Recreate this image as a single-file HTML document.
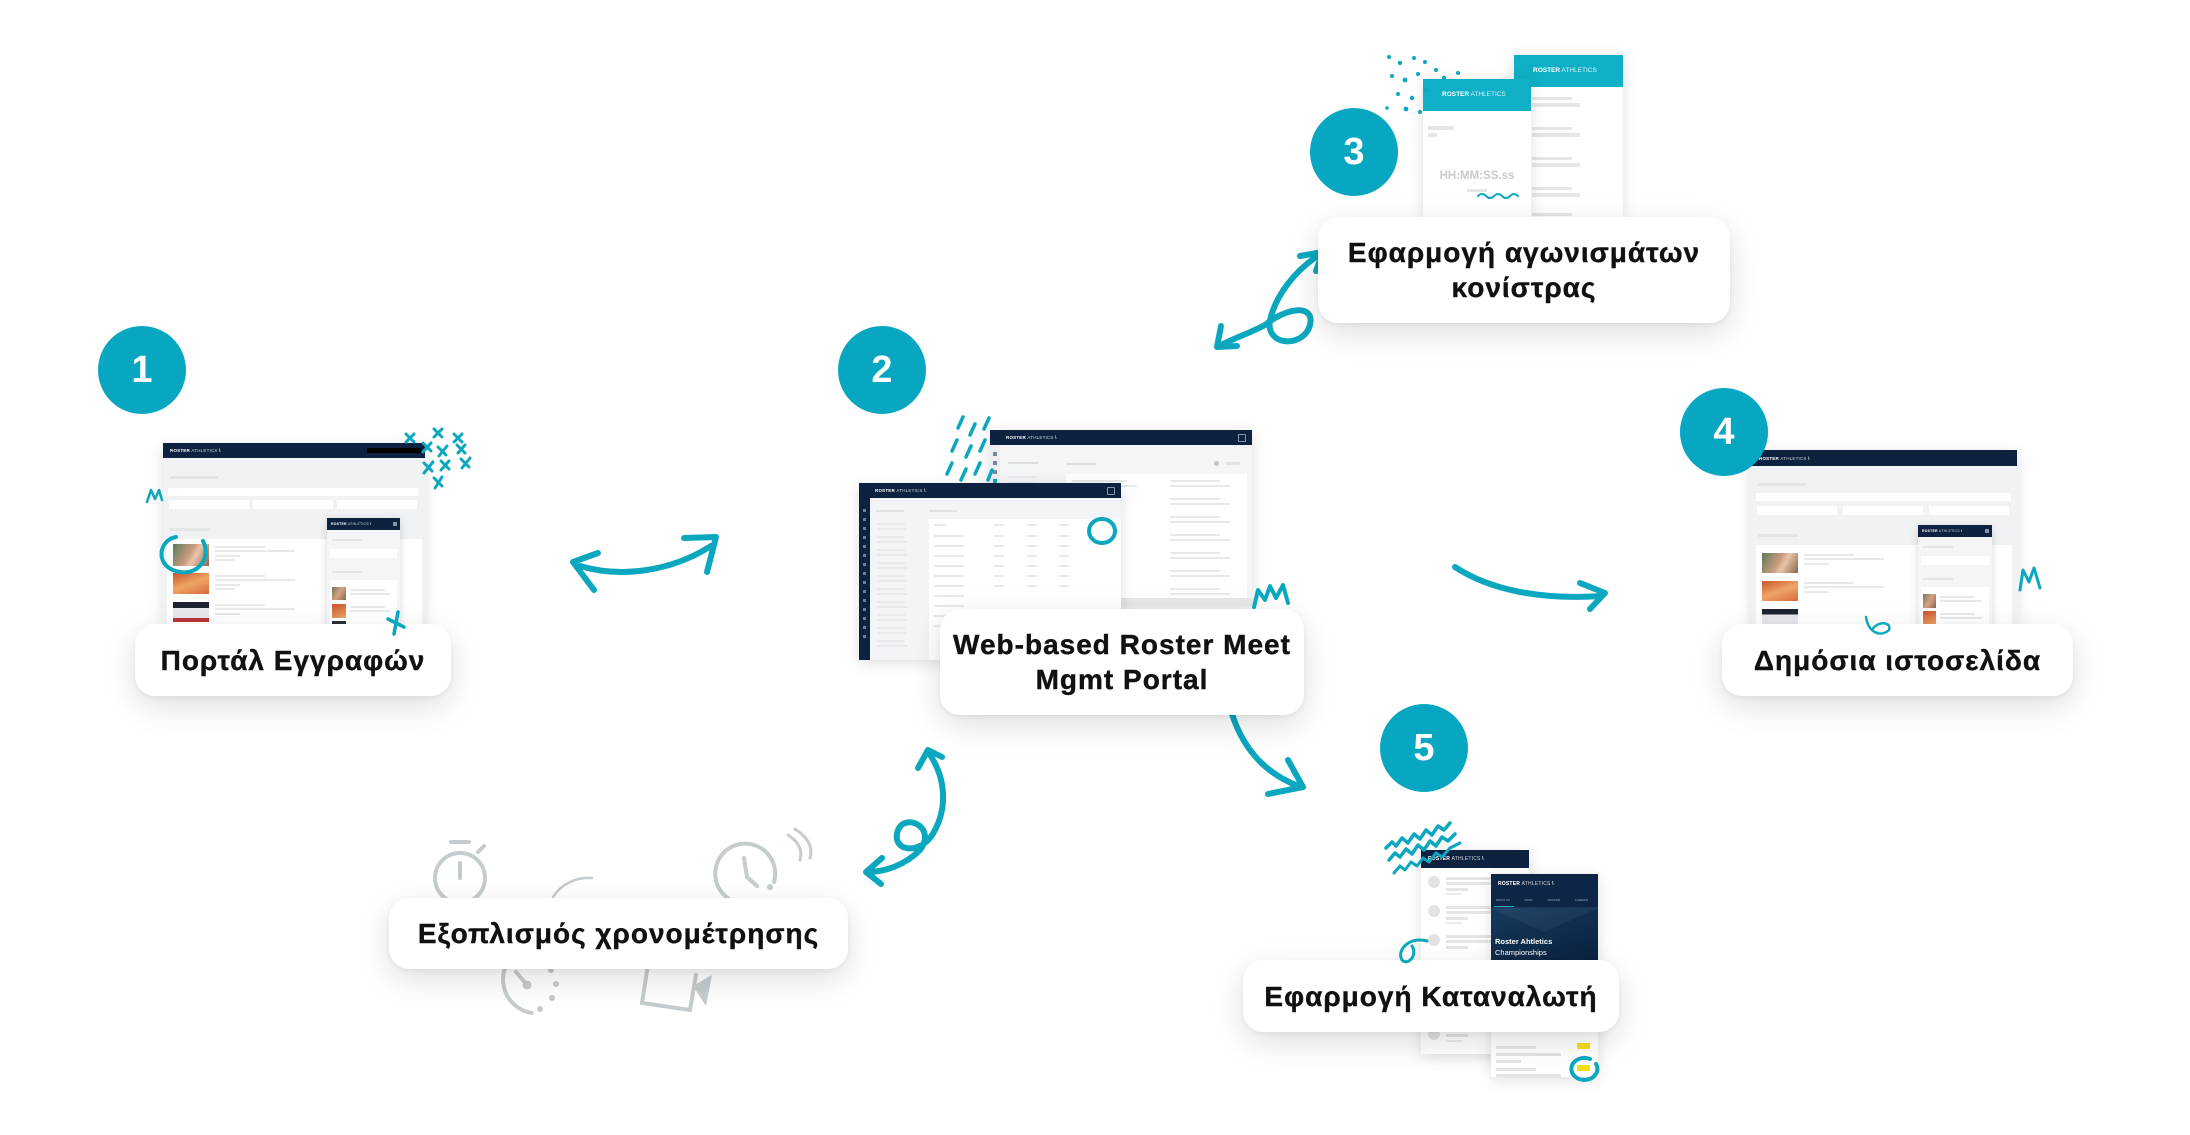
<!DOCTYPE html>
<html><head><meta charset="utf-8">
<style>
html,body{margin:0;padding:0;background:#fff}
body{width:2190px;height:1135px;position:relative;overflow:hidden;font-family:"Liberation Sans","DejaVu Sans",sans-serif}
.w{position:absolute;overflow:hidden;box-shadow:0 3px 14px rgba(0,0,0,.13)}
.w div,.w span{position:absolute}
.hdr{left:0;top:0;right:0;background:#0c2240}
.brand{color:#fff;font-size:4.5px;font-weight:bold;letter-spacing:.2px;white-space:nowrap}
.brand i{font-style:normal;font-weight:normal;opacity:.8}
.ln{background:#e7e9eb;height:2px}
.wh{background:#fff}
.mob{box-shadow:0 2px 8px rgba(0,0,0,.15);overflow:hidden}
.box{position:absolute;background:#fff;border-radius:20px;box-shadow:0 10px 32px rgba(0,0,0,.13),0 2px 6px rgba(0,0,0,.05);display:flex;align-items:center;justify-content:center;text-align:center;font-weight:bold;font-size:28px;line-height:35px;color:#111;letter-spacing:1px;-webkit-text-stroke:0.4px #111;z-index:5}
.num{position:absolute;width:88px;height:88px;border-radius:50%;background:#08a7c1;color:#fff;font-weight:bold;font-size:38px;display:flex;align-items:center;justify-content:center;z-index:6}
svg{position:absolute;left:0;top:0}
</style></head><body>

<!-- bottom svg: arrows + timing icons -->
<svg width="2190" height="1135" style="z-index:1">
 <g fill="none" stroke="#0aa7bf" stroke-width="6" stroke-linecap="round" stroke-linejoin="round">
  <path d="M580 566 C620 578 670 572 711 546"/>
  <path d="M598 553 L573 562 L594 590"/>
  <path d="M684 538 L716 537 L707 572"/>
  <path d="M1322 253 C1295 270 1276 295 1270 320 C1265 347 1304 348 1310 325 C1315 303 1285 308 1265 325 C1250 333 1232 339 1219 346"/>
  <path d="M1300 256 L1323 252 L1316 271"/>
  <path d="M1221 326 L1217 347 L1237 346"/>
  <path d="M1455 567 C1490 590 1540 600 1602 596"/>
  <path d="M1580 583 L1605 593 L1590 609"/>
  <path d="M1232 714 C1242 745 1262 772 1298 786"/>
  <path d="M1288 760 L1303 787 L1268 794"/>
  <path d="M928 752 C945 775 948 805 935 830 C922 857 890 852 898 830 C906 812 937 828 920 850 C905 865 885 872 867 872"/>
  <path d="M918 768 L928 750 L942 757"/>
  <path d="M882 858 L866 872 L881 884"/>
 </g>
 <g fill="none" stroke="#c6cbce" stroke-width="4" stroke-linecap="round">
  <circle cx="460" cy="878" r="25"/>
  <path d="M451 842 L469 842"/>
  <path d="M460 863 L460 878"/>
  <path d="M478 852 L484 846"/>
  <path d="M553 897 A42 42 0 0 1 592 878" stroke-width="2.5"/>
  <path d="M755 902 A30 30 0 1 1 774 882"/>
  <path d="M744 858 L747 877 L757 886"/>
  <path d="M788 835 Q804 845 800 860" stroke-width="3"/>
  <path d="M795 829 Q815 842 810 858" stroke-width="3"/>
  <path d="M505 968 A34 34 0 0 0 532 1013"/>
  <path d="M516 972 L527 985"/>
  <path d="M648 965 L642 1003 L690 1010 L696 975"/>
 </g>
 <g fill="#c6cbce">
  <circle cx="770" cy="887" r="3"/>
  <circle cx="527" cy="985" r="4.5"/>
  <circle cx="551" cy="970" r="3"/><circle cx="556" cy="984" r="3"/><circle cx="552" cy="998" r="3"/><circle cx="540" cy="1009" r="3"/>
  <polygon points="693,986 712,975 706,1006"/>
 </g>
</svg>

<!-- Screenshot 1 -->
<div class="w" style="left:163px;top:443px;width:262px;height:181px;background:#f1f2f3;z-index:2">
 <div class="hdr" style="height:15px"><span class="brand" style="left:7px;top:5px">ROSTER <i>ATHLETICS</i> \</span><div style="right:4px;top:5px;width:54px;height:5px;background:#000"></div></div>
 <div style="left:7px;top:33px;width:48px;height:3px;background:#e3e5e7"></div>
 <div class="wh" style="left:5px;top:45px;width:250px;height:8px"></div>
 <div class="wh" style="left:6px;top:57px;width:80px;height:9px"></div>
 <div class="wh" style="left:90px;top:57px;width:80px;height:9px"></div>
 <div class="wh" style="left:174px;top:57px;width:80px;height:9px"></div>
 <div style="left:7px;top:85px;width:40px;height:3px;background:#e3e5e7"></div>
 <div class="wh" style="left:4px;top:96px;width:255px;height:90px"></div>
 <div style="left:10px;top:101px;width:36px;height:22px;background:linear-gradient(120deg,#5d7a5a,#c99a7e 45%,#e8c4a8 60%,#8a6650)"></div>
 <div style="left:10px;top:130px;width:36px;height:21px;background:linear-gradient(160deg,#c7552e,#f0a466 50%,#d86a3a)"></div>
 <div style="left:10px;top:159px;width:36px;height:20px;background:linear-gradient(#1d2330 0 30%,#e6e7ec 30% 80%,#b8363a 80%)"></div>
 <div class="ln" style="left:52px;top:103px;width:50px"></div><div class="ln" style="left:52px;top:107px;width:80px"></div><div class="ln" style="left:52px;top:112px;width:25px"></div><div class="ln" style="left:52px;top:116px;width:20px"></div>
 <div class="ln" style="left:52px;top:132px;width:50px"></div><div class="ln" style="left:52px;top:136px;width:80px"></div><div class="ln" style="left:52px;top:141px;width:25px"></div><div class="ln" style="left:52px;top:145px;width:20px"></div>
 <div class="ln" style="left:52px;top:161px;width:50px"></div><div class="ln" style="left:52px;top:165px;width:80px"></div><div class="ln" style="left:52px;top:170px;width:25px"></div>
 <div class="mob" style="left:164px;top:75px;width:73px;height:110px;background:#f4f5f6">
  <div class="hdr" style="height:12px"><span class="brand" style="left:4px;top:4px;font-size:3.5px">ROSTER <i>ATHLETICS</i> \</span><div style="right:3px;top:4px;width:4px;height:4px;background:#8696aa"></div></div>
  <div style="left:5px;top:21px;width:30px;height:2px;background:#e2e4e6"></div>
  <div class="wh" style="left:3px;top:31px;width:67px;height:9px"></div>
  <div style="left:5px;top:53px;width:30px;height:2px;background:#e2e4e6"></div>
  <div class="wh" style="left:3px;top:62px;width:67px;height:50px"></div>
  <div style="left:5px;top:69px;width:14px;height:13px;background:linear-gradient(120deg,#6a7a5a,#d6a283,#8a6650)"></div>
  <div style="left:5px;top:86px;width:14px;height:14px;background:linear-gradient(160deg,#c7552e,#f0a466)"></div>
  <div style="left:5px;top:103px;width:14px;height:8px;background:#2a2f3c"></div>
  <div class="ln" style="left:23px;top:71px;width:35px"></div><div class="ln" style="left:23px;top:75px;width:40px"></div>
  <div class="ln" style="left:23px;top:88px;width:35px"></div><div class="ln" style="left:23px;top:92px;width:40px"></div>
 </div>
</div>

<!-- Screenshot 4 -->
<div class="w" style="left:1751px;top:450px;width:266px;height:174px;background:#f1f2f3;z-index:2">
 <div class="hdr" style="height:16px"><span class="brand" style="left:8px;top:6px">ROSTER <i>ATHLETICS</i> \</span></div>
 <div style="left:7px;top:33px;width:48px;height:3px;background:#e3e5e7"></div>
 <div class="wh" style="left:5px;top:43px;width:255px;height:8px"></div>
 <div class="wh" style="left:6px;top:56px;width:80px;height:9px"></div>
 <div class="wh" style="left:92px;top:56px;width:80px;height:9px"></div>
 <div class="wh" style="left:178px;top:56px;width:80px;height:9px"></div>
 <div style="left:7px;top:84px;width:40px;height:3px;background:#e3e5e7"></div>
 <div class="wh" style="left:5px;top:95px;width:256px;height:90px"></div>
 <div style="left:11px;top:103px;width:36px;height:20px;background:linear-gradient(120deg,#5d7a5a,#c99a7e 45%,#e8c4a8 60%,#8a6650)"></div>
 <div style="left:11px;top:131px;width:36px;height:20px;background:linear-gradient(160deg,#c7552e,#f0a466 50%,#d86a3a)"></div>
 <div style="left:11px;top:159px;width:36px;height:16px;background:linear-gradient(#1d2330 0 35%,#e6e7ec 35%)"></div>
 <div class="ln" style="left:53px;top:104px;width:50px"></div><div class="ln" style="left:53px;top:108px;width:80px"></div><div class="ln" style="left:53px;top:113px;width:25px"></div>
 <div class="ln" style="left:53px;top:132px;width:50px"></div><div class="ln" style="left:53px;top:136px;width:80px"></div><div class="ln" style="left:53px;top:141px;width:25px"></div>
 <div class="mob" style="left:167px;top:75px;width:74px;height:105px;background:#f4f5f6">
  <div class="hdr" style="height:12px"><span class="brand" style="left:4px;top:4px;font-size:3.5px">ROSTER <i>ATHLETICS</i> \</span><div style="right:3px;top:4px;width:4px;height:4px;background:#8696aa"></div></div>
  <div style="left:5px;top:21px;width:30px;height:2px;background:#e2e4e6"></div>
  <div class="wh" style="left:3px;top:31px;width:68px;height:9px"></div>
  <div style="left:5px;top:53px;width:30px;height:2px;background:#e2e4e6"></div>
  <div class="wh" style="left:3px;top:62px;width:68px;height:50px"></div>
  <div style="left:5px;top:69px;width:13px;height:14px;background:linear-gradient(120deg,#6a7a5a,#d6a283,#8a6650)"></div>
  <div style="left:5px;top:86px;width:13px;height:14px;background:linear-gradient(160deg,#c7552e,#f0a466)"></div>
  <div class="ln" style="left:22px;top:71px;width:35px"></div><div class="ln" style="left:22px;top:75px;width:42px"></div>
  <div class="ln" style="left:22px;top:88px;width:35px"></div><div class="ln" style="left:22px;top:92px;width:42px"></div>
 </div>
</div>

<!-- Screenshot 2 back -->
<div class="w" style="left:990px;top:430px;width:262px;height:176px;background:#f4f5f6;z-index:2">
 <div class="hdr" style="height:15px"><span class="brand" style="left:16px;top:5px">ROSTER <i>ATHLETICS</i> \</span><div style="right:6px;top:4px;width:6px;height:6px;border:1px solid #8696aa;border-radius:1px"></div></div>
 <div style="left:0;top:15px;width:10px;height:161px;background:#eceef1"></div>
 <div style="left:3px;top:22px;width:4px;height:4px;background:#7b8899"></div>
 <div style="left:3px;top:31px;width:4px;height:4px;background:#7b8899"></div>
 <div style="left:3px;top:40px;width:4px;height:4px;background:#7b8899"></div>
 <div style="left:3px;top:49px;width:4px;height:4px;background:#0aa7bf"></div>
 <div style="left:18px;top:32px;width:30px;height:2px;background:#dcdfe2"></div>
 <div class="ln" style="left:18px;top:46px;width:28px"></div><div class="ln" style="left:18px;top:52px;width:26px"></div><div class="ln" style="left:18px;top:58px;width:28px"></div>
 <div style="left:76px;top:33px;width:30px;height:2px;background:#dcdfe2"></div>
 <div style="left:224px;top:31px;width:5px;height:5px;border-radius:50%;background:#bfc4c9"></div>
 <div style="left:236px;top:32px;width:14px;height:3px;background:#e1e3e6"></div>
 <div class="wh" style="left:76px;top:44px;width:181px;height:125px"></div>
 <div class="ln" style="left:82px;top:50px;width:55px"></div><div class="ln" style="left:82px;top:55px;width:65px"></div>
 <div class="ln" style="left:180px;top:50px;width:50px"></div><div class="ln" style="left:180px;top:55px;width:60px"></div>
 <div class="ln" style="left:180px;top:68px;width:50px"></div><div class="ln" style="left:180px;top:73px;width:60px"></div>
 <div class="ln" style="left:180px;top:86px;width:50px"></div><div class="ln" style="left:180px;top:91px;width:60px"></div>
 <div class="ln" style="left:180px;top:104px;width:50px"></div><div class="ln" style="left:180px;top:109px;width:60px"></div>
 <div class="ln" style="left:180px;top:122px;width:50px"></div><div class="ln" style="left:180px;top:127px;width:60px"></div>
 <div class="ln" style="left:180px;top:140px;width:50px"></div><div class="ln" style="left:180px;top:145px;width:60px"></div>
 <div class="ln" style="left:180px;top:158px;width:50px"></div><div class="ln" style="left:180px;top:163px;width:60px"></div>
 <div style="left:0;top:168px;width:262px;height:8px;background:#e6e8ea"></div>
</div>

<!-- Screenshot 2 front -->
<div class="w" style="left:859px;top:483px;width:262px;height:177px;background:#f3f4f5;z-index:2">
 <div class="hdr" style="height:15px"><span class="brand" style="left:16px;top:5px">ROSTER <i>ATHLETICS</i> \</span><div style="right:6px;top:4px;width:6px;height:6px;border:1px solid #8696aa;border-radius:1px"></div></div>
 <div style="left:0;top:15px;width:11px;height:162px;background:#0c2240"></div>
 <div style="left:4px;top:26px;width:3px;height:3px;background:#6c7d94"></div><div style="left:4px;top:35px;width:3px;height:3px;background:#6c7d94"></div><div style="left:4px;top:44px;width:3px;height:3px;background:#6c7d94"></div><div style="left:4px;top:53px;width:3px;height:3px;background:#6c7d94"></div><div style="left:4px;top:62px;width:3px;height:3px;background:#6c7d94"></div><div style="left:4px;top:71px;width:3px;height:3px;background:#6c7d94"></div><div style="left:4px;top:80px;width:3px;height:3px;background:#6c7d94"></div><div style="left:4px;top:89px;width:3px;height:3px;background:#6c7d94"></div><div style="left:4px;top:98px;width:3px;height:3px;background:#6c7d94"></div><div style="left:4px;top:107px;width:3px;height:3px;background:#6c7d94"></div><div style="left:4px;top:116px;width:3px;height:3px;background:#6c7d94"></div><div style="left:4px;top:125px;width:3px;height:3px;background:#6c7d94"></div><div style="left:4px;top:134px;width:3px;height:3px;background:#6c7d94"></div><div style="left:4px;top:143px;width:3px;height:3px;background:#6c7d94"></div><div style="left:4px;top:152px;width:3px;height:3px;background:#6c7d94"></div>
 <div style="left:17px;top:27px;width:28px;height:2px;background:#dfe2e5"></div>
 <div style="left:70px;top:27px;width:28px;height:2px;background:#dfe2e5"></div>
 <div class="ln" style="left:18px;top:40px;width:28px"></div><div class="ln" style="left:18px;top:45px;width:30px"></div>
 <div class="ln" style="left:18px;top:53px;width:28px"></div><div class="ln" style="left:18px;top:58px;width:30px"></div>
 <div class="ln" style="left:18px;top:66px;width:28px"></div><div class="ln" style="left:18px;top:71px;width:30px"></div>
 <div class="ln" style="left:18px;top:79px;width:28px"></div><div class="ln" style="left:18px;top:84px;width:30px"></div>
 <div class="ln" style="left:18px;top:92px;width:28px"></div><div class="ln" style="left:18px;top:97px;width:30px"></div>
 <div class="ln" style="left:18px;top:105px;width:28px"></div><div class="ln" style="left:18px;top:110px;width:30px"></div>
 <div class="ln" style="left:18px;top:118px;width:28px"></div><div class="ln" style="left:18px;top:123px;width:30px"></div>
 <div class="ln" style="left:18px;top:131px;width:28px"></div><div class="ln" style="left:18px;top:136px;width:30px"></div>
 <div class="ln" style="left:18px;top:144px;width:28px"></div><div class="ln" style="left:18px;top:149px;width:30px"></div>
 <div class="ln" style="left:18px;top:157px;width:28px"></div><div class="ln" style="left:18px;top:162px;width:30px"></div>
 <div class="wh" style="left:70px;top:36px;width:192px;height:141px"></div>
 <div class="ln" style="left:75px;top:41px;width:12px"></div><div class="ln" style="left:135px;top:41px;width:10px"></div><div class="ln" style="left:168px;top:41px;width:10px"></div><div class="ln" style="left:200px;top:41px;width:10px"></div>
 <div class="ln" style="left:75px;top:52px;width:30px"></div><div class="ln" style="left:75px;top:62px;width:30px"></div><div class="ln" style="left:75px;top:72px;width:30px"></div><div class="ln" style="left:75px;top:82px;width:30px"></div><div class="ln" style="left:75px;top:92px;width:30px"></div><div class="ln" style="left:75px;top:102px;width:30px"></div><div class="ln" style="left:75px;top:112px;width:30px"></div><div class="ln" style="left:75px;top:122px;width:30px"></div><div class="ln" style="left:75px;top:132px;width:30px"></div><div class="ln" style="left:75px;top:142px;width:30px"></div>
 <div class="ln" style="left:135px;top:52px;width:10px"></div><div class="ln" style="left:135px;top:62px;width:10px"></div><div class="ln" style="left:135px;top:72px;width:10px"></div><div class="ln" style="left:135px;top:82px;width:10px"></div><div class="ln" style="left:135px;top:92px;width:10px"></div><div class="ln" style="left:135px;top:102px;width:10px"></div>
 <div class="ln" style="left:168px;top:52px;width:10px"></div><div class="ln" style="left:168px;top:62px;width:10px"></div><div class="ln" style="left:168px;top:72px;width:10px"></div><div class="ln" style="left:168px;top:82px;width:10px"></div><div class="ln" style="left:168px;top:92px;width:10px"></div><div class="ln" style="left:168px;top:102px;width:10px"></div>
 <div class="ln" style="left:200px;top:52px;width:10px"></div><div class="ln" style="left:200px;top:62px;width:10px"></div><div class="ln" style="left:200px;top:72px;width:10px"></div><div class="ln" style="left:200px;top:82px;width:10px"></div><div class="ln" style="left:200px;top:92px;width:10px"></div><div class="ln" style="left:200px;top:102px;width:10px"></div>
</div>

<!-- Screenshot 3 phones -->
<div class="w" style="left:1514px;top:55px;width:109px;height:162px;background:#fff;z-index:2">
 <div style="left:0;top:0;width:109px;height:32px;background:#0fb0c6"></div>
 <span style="left:19px;top:12px;color:#fff;font-size:6.5px;font-weight:bold;white-space:nowrap">ROSTER<span style="position:static;font-weight:normal;opacity:.85"> ATHLETICS</span></span>
 <div style="left:18px;top:42px;width:40px;height:3px;background:#e6e6e6"></div><div style="left:18px;top:48px;width:48px;height:4px;background:#e6e6e6"></div>
 <div style="left:18px;top:72px;width:40px;height:3px;background:#e6e6e6"></div><div style="left:18px;top:78px;width:48px;height:4px;background:#e6e6e6"></div>
 <div style="left:18px;top:102px;width:40px;height:3px;background:#e6e6e6"></div><div style="left:18px;top:108px;width:48px;height:4px;background:#e6e6e6"></div>
 <div style="left:18px;top:132px;width:40px;height:3px;background:#e6e6e6"></div><div style="left:18px;top:138px;width:48px;height:4px;background:#e6e6e6"></div>
 <div style="left:18px;top:158px;width:40px;height:3px;background:#e6e6e6"></div>
</div>
<div class="w" style="left:1423px;top:79px;width:108px;height:140px;background:#fff;z-index:2">
 <div style="left:0;top:0;width:108px;height:32px;background:#0fb0c6"></div>
 <span style="left:19px;top:12px;color:#fff;font-size:6.5px;font-weight:bold;white-space:nowrap">ROSTER<span style="position:static;font-weight:normal;opacity:.85"> ATHLETICS</span></span>
 <div style="left:5px;top:47px;width:26px;height:4px;background:#e5e5e5"></div>
 <div style="left:5px;top:54px;width:9px;height:4px;background:#e5e5e5"></div>
 <span style="left:0;width:108px;top:91px;text-align:center;color:#cacaca;font-size:11.5px;font-weight:bold">HH:MM:SS.ss</span>
 <div style="left:44px;top:110px;width:20px;height:3px;background:#e5e5e5"></div>
</div>

<!-- Screenshot 5 phones -->
<div class="w" style="left:1421px;top:850px;width:108px;height:204px;background:#fff;z-index:2">
 <div class="hdr" style="height:18px"><span class="brand" style="left:7px;top:6px;font-size:5px">ROSTER <i>ATHLETICS</i> \</span></div>
 <div style="left:7px;top:26px;width:12px;height:12px;border-radius:50%;background:#e3e3e3"></div>
 <div style="left:7px;top:55px;width:12px;height:12px;border-radius:50%;background:#e3e3e3"></div>
 <div style="left:7px;top:84px;width:12px;height:12px;border-radius:50%;background:#e3e3e3"></div>
 <div style="left:7px;top:178px;width:12px;height:12px;border-radius:50%;background:#e3e3e3"></div>
 <div style="left:25px;top:27px;width:45px;height:3px;background:#e5e5e5"></div><div style="left:25px;top:32px;width:60px;height:3px;background:#e5e5e5"></div><div style="left:25px;top:38px;width:22px;height:3px;background:#e5e5e5"></div><div style="left:25px;top:43px;width:16px;height:2px;background:#ececec"></div>
 <div style="left:25px;top:56px;width:45px;height:3px;background:#e5e5e5"></div><div style="left:25px;top:61px;width:60px;height:3px;background:#e5e5e5"></div><div style="left:25px;top:67px;width:22px;height:3px;background:#e5e5e5"></div><div style="left:25px;top:72px;width:16px;height:2px;background:#ececec"></div>
 <div style="left:25px;top:85px;width:45px;height:3px;background:#e5e5e5"></div><div style="left:25px;top:90px;width:60px;height:3px;background:#e5e5e5"></div><div style="left:25px;top:96px;width:22px;height:3px;background:#e5e5e5"></div>
 <div style="left:25px;top:184px;width:22px;height:3px;background:#e5e5e5"></div><div style="left:25px;top:190px;width:16px;height:2px;background:#ececec"></div>
</div>
<div class="w" style="left:1491px;top:874px;width:107px;height:203px;background:#fff;z-index:2">
 <div style="left:0;top:0;width:107px;height:86px;background:#0e2646"></div>
 <span class="brand" style="left:7px;top:7px;font-size:5px">ROSTER <i>ATHLETICS</i> \</span>
 <div style="left:0;top:33px;width:107px;height:1px;background:#1b3758"></div>
 <span style="left:5px;top:24px;color:#7a8aa0;font-size:3px;font-weight:bold;white-space:nowrap;word-spacing:14px">RESULTS FEED ROSTER LOBBIES</span>
 <div style="left:3px;top:32px;width:20px;height:1px;background:#0aa7bf"></div>
 <div style="left:0;top:34px;width:107px;height:52px;background:linear-gradient(160deg,#163a60 0%,#10304f 40%,#0b2240 100%)"></div>
 <div style="left:0;top:34px;width:0;height:0;border-left:53px solid transparent;border-right:54px solid transparent;border-top:24px solid rgba(255,255,255,.05)"></div>
 <span style="left:4px;top:63px;color:#fff;font-size:7.5px;font-weight:bold;white-space:nowrap">Roster Ahtletics</span>
 <span style="left:4px;top:74px;color:#fff;font-size:7.5px;white-space:nowrap">Championships</span>
 <div style="left:5px;top:172px;width:40px;height:3px;background:#e5e5e5"></div><div style="left:5px;top:179px;width:65px;height:3px;background:#e5e5e5"></div><div style="left:5px;top:186px;width:25px;height:3px;background:#e5e5e5"></div>
 <div style="left:5px;top:194px;width:40px;height:3px;background:#e5e5e5"></div><div style="left:5px;top:200px;width:65px;height:3px;background:#e5e5e5"></div>
 <div style="left:86px;top:169px;width:13px;height:6px;background:#f4df17"></div>
 <div style="left:86px;top:191px;width:13px;height:6px;background:#f4df17"></div>
</div>

<!-- Labels -->
<div class="box" style="left:135px;top:624px;width:316px;height:72px">Πορτάλ Εγγραφών</div>
<div class="box" style="left:940px;top:609px;width:364px;height:106px">Web-based Roster Meet<br>Mgmt Portal</div>
<div class="box" style="left:1318px;top:217px;width:412px;height:106px">Εφαρμογή αγωνισμάτων<br>κονίστρας</div>
<div class="box" style="left:1722px;top:624px;width:351px;height:72px">Δημόσια ιστοσελίδα</div>
<div class="box" style="left:1243px;top:960px;width:376px;height:72px">Εφαρμογή Καταναλωτή</div>
<div class="box" style="left:389px;top:898px;width:459px;height:71px">Εξοπλισμός χρονομέτρησης</div>

<!-- Numbers -->
<div class="num" style="left:98px;top:326px">1</div>
<div class="num" style="left:838px;top:326px">2</div>
<div class="num" style="left:1310px;top:108px">3</div>
<div class="num" style="left:1680px;top:388px">4</div>
<div class="num" style="left:1380px;top:704px">5</div>

<!-- top svg: scribbles -->
<svg width="2190" height="1135" style="z-index:7;pointer-events:none">
 <g fill="none" stroke="#0aa7bf" stroke-width="3" stroke-linecap="round" stroke-linejoin="round">
  <path d="M406 434 L414 442 M414 434 L406 442"/>
  <path d="M434 429 L442 437 M442 429 L434 437"/>
  <path d="M454 434 L462 442 M462 434 L454 442"/>
  <path d="M423 443 L431 451 M431 443 L423 452"/>
  <path d="M438 447 L446 455 M447 446 L439 456"/>
  <path d="M457 445 L465 453 M465 445 L458 453"/>
  <path d="M424 463 L432 471 M433 462 L424 473"/>
  <path d="M441 461 L449 469 M449 461 L441 470"/>
  <path d="M461 459 L469 467 M470 458 L462 468"/>
  <path d="M434 478 L442 486 M442 477 L435 488"/>
  <path d="M388 619 L404 627 M398 612 L394 634" stroke-width="3.5"/>
  <path d="M176 537 C158 540 154 568 180 572 C200 575 211 556 203 541" stroke-width="4"/>
  <path d="M147 502 L151 490 L155 499 L159 490 L162 500" stroke-width="2.5"/>
  <path d="M963 417 L958 428 M975 424 L970 435 M989 418 L984 429 M957 440 L952 451 M971 446 L966 457 M985 440 L980 451 M952 463 L947 474 M966 469 L961 480 M980 463 L975 474 M992 470 L988 480" stroke-width="3.5"/>
  <ellipse cx="1102" cy="531" rx="13" ry="12" stroke-width="4"/>
  <path d="M1254 607 L1258 590 L1265 600 L1270 586 L1276 598 L1283 585 L1288 603" stroke-width="4"/>
  <path d="M1478 196 q4 -4 8 0 t8 0 t8 0 t8 0 t8 0" stroke-width="2"/>
  <path d="M2020 590 L2023 570 L2029 582 L2034 568 L2040 588" stroke-width="3"/>
  <path d="M1866 617 C1868 632 1880 638 1889 630 C1892 622 1878 620 1872 630" stroke-width="2.5"/>
  <path d="M1386 848 L1392 842 L1396 846 L1402 838 L1408 843 L1414 834 L1420 839 L1426 830 L1432 835 L1438 826 L1444 830 L1450 823" stroke-width="3.5"/>
  <path d="M1389 860 L1395 853 L1400 857 L1406 849 L1412 854 L1418 845 L1424 850 L1430 841 L1436 846 L1442 837 L1448 841 L1455 834" stroke-width="3.5"/>
  <path d="M1394 873 L1400 866 L1405 870 L1411 862 L1417 866 L1423 858 L1429 862 L1436 853 L1442 857 L1450 848 L1460 843" stroke-width="3"/>
  <path d="M1427 941 C1410 936 1396 950 1402 960 C1408 966 1418 955 1412 946" stroke-width="3"/>
  <path d="M1590 1059 A13 11 0 1 0 1596 1064" stroke-width="4"/>
 </g>
 <g fill="#0aa7bf">
  <circle cx="1389" cy="57" r="2"/><circle cx="1400" cy="63" r="2.2"/><circle cx="1414" cy="58" r="2"/><circle cx="1425" cy="62" r="2"/><circle cx="1436" cy="70" r="2"/>
  <circle cx="1392" cy="76" r="2"/><circle cx="1405" cy="80" r="2.4"/><circle cx="1418" cy="74" r="2"/><circle cx="1444" cy="78" r="2.2"/><circle cx="1458" cy="73" r="2"/>
  <circle cx="1398" cy="94" r="2"/><circle cx="1412" cy="98" r="2.2"/><circle cx="1426" cy="90" r="2"/><circle cx="1406" cy="109" r="2.4"/><circle cx="1420" cy="112" r="2"/><circle cx="1387" cy="108" r="1.8"/>
 </g>
</svg>

</body></html>
